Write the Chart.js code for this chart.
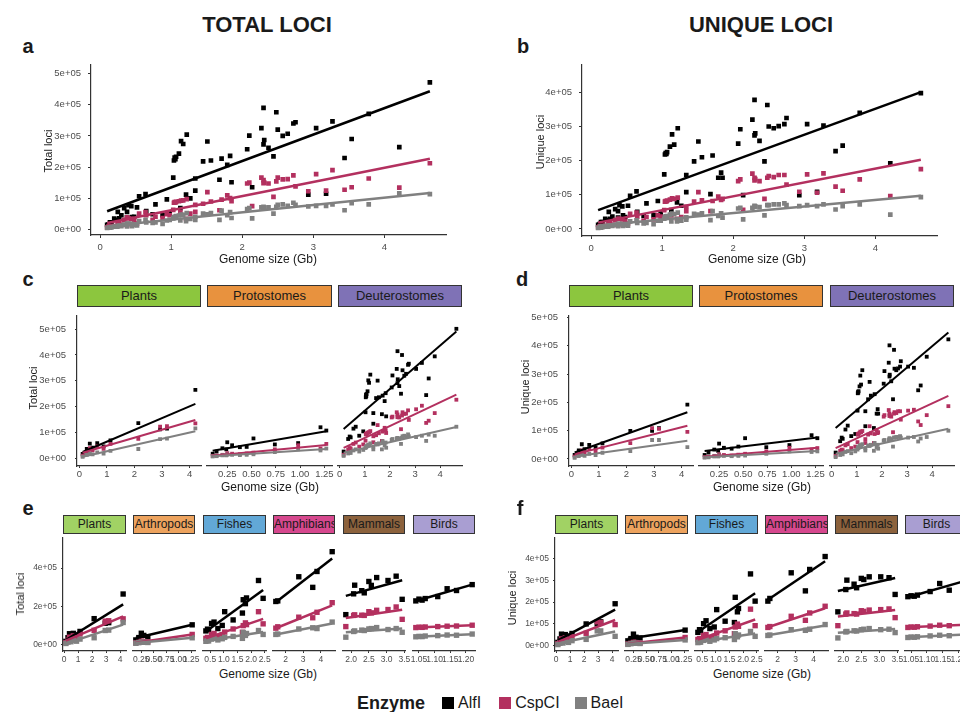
<!DOCTYPE html>
<html>
<head>
<meta charset="utf-8">
<script src="https://cdn.jsdelivr.net/npm/chart.js@4.4.1/dist/chart.umd.min.js"></script>
<style>
body { margin: 0; width: 960px; height: 712px; overflow: hidden; background: #fff; position: relative;
       font-family: 'Liberation Sans', Arial, Helvetica, sans-serif; color: #1a1a1a; }
canvas { position: absolute; }
.txt { position: absolute; white-space: nowrap; transform: translate(-50%, -50%); }
.rot { transform: translate(-50%, -50%) rotate(-90deg); }
.strip { position: absolute; box-sizing: border-box; border: 1px solid #333; text-align: center;
         overflow: hidden; white-space: nowrap; color: #1a1a1a; }
.legend { position: absolute; left: 357px; top: 692px; height: 22px; display: flex; align-items: center; font-size: 16px; }
.legend .sw { width: 12px; height: 12px; margin: 0 4px 0 0; }
</style>
</head>
<body>
<script>
// Genome size (Gb) and loci counts (thousands) per taxon group

// Plants
const plantSize   = [0.12, 0.27, 0.38, 0.48, 0.65, 0.88, 1.13, 2.14, 2.93, 3.18, 4.21];
const plantTotAlf = [16, 35, 56, 40, 58, 45, 68, 135, 111, 114, 264];
const plantTotCsp = [9, 22, 38, 30, 45, 36, 55, 74, 122, 124, 134];
const plantTotBae = [5, 12, 18, 14, 22, 17, 28, 35, 73, 75, 115];
const plantUniAlf = [14, 30, 52, 35, 50, 40, 55, 99, 99, 109, 192];
const plantUniCsp = [8, 18, 30, 24, 35, 28, 40, 56, 109, 106, 96];
const plantUniBae = [4, 10, 15, 11, 18, 14, 22, 28, 67, 67, 42];

// Arthropods
const arthSize   = [0.14, 0.2, 0.25, 0.3, 0.38, 1.27];
const arthTotAlf = [22, 34, 56, 45, 38, 99];
const arthTotCsp = [7, 10, 16, 14, 12, 50];
const arthTotBae = [5, 8, 11, 10, 9, 33];
const arthUniAlf = [20, 30, 50, 36, 33, 68];
const arthUniCsp = [6, 9, 14, 12, 10, 35];
const arthUniBae = [4, 7, 10, 9, 8, 24];

// Other protostomes
const protSize   = [0.1, 0.24, 0.45, 0.52, 0.74, 0.98, 1.21];
const protTotAlf = [14, 30, 39, 70, 48, 53, 111];
const protTotCsp = [6, 10, 15, 18, 30, 45, 33];
const protTotBae = [4, 8, 10, 12, 20, 30, 26];
const protUniAlf = [12, 26, 40, 68, 38, 45, 78];
const protUniCsp = [5, 9, 13, 16, 24, 36, 30];
const protUniBae = [3, 7, 9, 10, 16, 24, 22];

// Fishes
const fishSize   = [0.34, 0.40, 0.44, 0.55, 0.64, 0.78, 0.94, 1.03, 1.34, 1.68, 1.71, 1.79, 1.83, 2.27, 2.44];
const fishTotAlf = [68, 77, 74, 106, 113, 80, 96, 166, 124, 159, 227, 207, 236, 325, 234];
const fishTotCsp = [30, 35, 33, 50, 55, 40, 48, 62, 78, 61, 95, 109, 100, 166, 104];
const fishTotBae = [15, 18, 17, 26, 30, 22, 28, 35, 40, 30, 60, 45, 55, 70, 50];
const fishUniAlf = [58, 70, 66, 97, 110, 75, 82, 160, 108, 102, 215, 150, 165, 320, 198];
const fishUniCsp = [26, 30, 28, 44, 48, 35, 40, 55, 65, 52, 82, 95, 85, 162, 88];
const fishUniBae = [12, 15, 14, 22, 25, 18, 24, 30, 34, 26, 52, 38, 46, 62, 40];

// Amphibians
const amphSize   = [1.45, 1.56, 2.75, 3.54, 3.78, 4.64];
const amphTotAlf = [218, 221, 344, 290, 371, 472];
const amphTotCsp = [82, 89, 138, 135, 163, 212];
const amphTotBae = [50, 52, 78, 84, 80, 113];
const amphUniAlf = [198, 210, 325, 244, 340, 398];
const amphUniCsp = [80, 84, 130, 112, 145, 175];
const amphUniBae = [44, 46, 70, 67, 72, 93];

// Mammals
const mamSize   = [1.85, 2.07, 2.10, 2.30, 2.37, 2.50, 2.57, 2.72, 3.04, 3.27, 3.44];
const mamTotAlf = [151, 257, 301, 273, 262, 320, 300, 340, 325, 347, 229];
const mamTotCsp = [90, 147, 150, 148, 147, 166, 160, 173, 177, 190, 127];
const mamTotBae = [36, 65, 68, 72, 70, 78, 80, 85, 75, 80, 61];
const mamUniAlf = [150, 250, 292, 274, 258, 300, 295, 307, 307, 303, 228];
const mamUniCsp = [88, 140, 145, 142, 140, 155, 152, 158, 160, 163, 124];
const mamUniBae = [33, 60, 62, 65, 64, 70, 72, 75, 70, 72, 57];

// Birds
const birdSize   = [1.04, 1.05, 1.06, 1.07, 1.11, 1.14, 1.17, 1.22];
const birdTotAlf = [221, 230, 225, 233, 243, 283, 274, 304];
const birdTotCsp = [85, 87, 86, 88, 90, 92, 93, 97];
const birdTotBae = [38, 40, 39, 42, 44, 47, 46, 52];
const birdUniAlf = [218, 222, 220, 225, 241, 277, 247, 295];
const birdUniCsp = [80, 82, 81, 83, 86, 90, 88, 92];
const birdUniBae = [35, 37, 36, 38, 42, 45, 43, 48];

// Other deuterostomes
const deutSize   = [0.16, 1.34, 1.51, 2.30, 2.31, 2.48, 2.64];
const deutTotAlf = [22, 163, 282, 390, 287, 376, 307];
const deutTotCsp = [10, 56, 119, 158, 150, 154, 161];
const deutTotBae = [6, 30, 48, 70, 68, 72, 75];
const deutUniAlf = [20, 158, 256, 378, 280, 363, 301];
const deutUniCsp = [9, 52, 108, 150, 146, 150, 158];
const deutUniBae = [5, 27, 42, 68, 66, 70, 72];

const enzymes = ['AlfI', 'CspCI', 'BaeI'];
const enzymeColors = ['#000000', '#B3305F', '#808080'];

// Tick values
const ticksWhole = [0, 1, 2, 3, 4];
const ticksQuarter = [0.25, 0.5, 0.75, 1.0, 1.25];
const ticksFish = [0.5, 1.0, 1.5, 2.0, 2.5];
const ticksAmph = [2, 3, 4];
const ticksMam = [2.0, 2.5, 3.0, 3.5];
const ticksBird = [1.05, 1.10, 1.15, 1.20];
const yTicks5 = [0, 100, 200, 300, 400, 500];
const yTicks4 = [0, 100, 200, 300, 400];
const yTicksE = [0, 200, 400];

const FONT = "'Liberation Sans', Arial, Helvetica, sans-serif";
const TICK_COLOR = '#4D4D4D';
const AXIS_COLOR = '#333333';

const groups = {
    plants: { size: plantSize, tot: [plantTotAlf, plantTotCsp, plantTotBae], uni: [plantUniAlf, plantUniCsp, plantUniBae] },
    arth:   { size: arthSize,  tot: [arthTotAlf, arthTotCsp, arthTotBae],    uni: [arthUniAlf, arthUniCsp, arthUniBae] },
    prot:   { size: protSize,  tot: [protTotAlf, protTotCsp, protTotBae],    uni: [protUniAlf, protUniCsp, protUniBae] },
    fish:   { size: fishSize,  tot: [fishTotAlf, fishTotCsp, fishTotBae],    uni: [fishUniAlf, fishUniCsp, fishUniBae] },
    amph:   { size: amphSize,  tot: [amphTotAlf, amphTotCsp, amphTotBae],    uni: [amphUniAlf, amphUniCsp, amphUniBae] },
    mam:    { size: mamSize,   tot: [mamTotAlf, mamTotCsp, mamTotBae],       uni: [mamUniAlf, mamUniCsp, mamUniBae] },
    bird:   { size: birdSize,  tot: [birdTotAlf, birdTotCsp, birdTotBae],    uni: [birdUniAlf, birdUniCsp, birdUniBae] },
    deut:   { size: deutSize,  tot: [deutTotAlf, deutTotCsp, deutTotBae],    uni: [deutUniAlf, deutUniCsp, deutUniBae] }
};

// Combine several groups into one facet
function merge(keys) {
    const out = { size: [], tot: [[], [], []], uni: [[], [], []] };
    keys.forEach(k => {
        const g = groups[k];
        out.size = out.size.concat(g.size);
        for (let e = 0; e < 3; e++) {
            out.tot[e] = out.tot[e].concat(g.tot[e]);
            out.uni[e] = out.uni[e].concat(g.uni[e]);
        }
    });
    return out;
}

// Least squares line over the range of the data (like geom_smooth(method = "lm"))
function fit(xs, ys) {
    const n = xs.length;
    const mx = xs.reduce((a, b) => a + b, 0) / n;
    const my = ys.reduce((a, b) => a + b, 0) / n;
    let sxy = 0, sxx = 0;
    for (let i = 0; i < n; i++) {
        sxy += (xs[i] - mx) * (ys[i] - my);
        sxx += (xs[i] - mx) * (xs[i] - mx);
    }
    const b = sxy / sxx, a = my - b * mx;
    const x0 = Math.min(...xs), x1 = Math.max(...xs);
    return [{ x: x0, y: a + b * x0 }, { x: x1, y: a + b * x1 }];
}

const allKeys = ['plants', 'arth', 'prot', 'fish', 'amph', 'mam', 'bird', 'deut'];

const facetsAll = [{ data: merge(allKeys), ticks: ticksWhole, dec: 0 }];
const facets3 = [
    { name: 'Plants', fill: '#8CC63E', data: merge(['plants']), ticks: ticksWhole, dec: 0 },
    { name: 'Protostomes', fill: '#E8923E', data: merge(['arth', 'prot']), ticks: ticksQuarter, dec: 2 },
    { name: 'Deuterostomes', fill: '#7F72B6', data: merge(['fish', 'amph', 'mam', 'bird', 'deut']), ticks: ticksWhole, dec: 0 }
];
const facets6 = [
    { name: 'Plants', fill: '#A1D264', data: merge(['plants']), ticks: ticksWhole, dec: 0 },
    { name: 'Arthropods', fill: '#EDA35E', data: merge(['arth']), ticks: ticksQuarter, dec: 2 },
    { name: 'Fishes', fill: '#62A8D7', data: merge(['fish']), ticks: ticksFish, dec: 1 },
    { name: 'Amphibians', fill: '#D6488E', data: merge(['amph']), ticks: ticksAmph, dec: 0 },
    { name: 'Mammals', fill: '#8C623D', data: merge(['mam']), ticks: ticksMam, dec: 1 },
    { name: 'Birds', fill: '#A99ED2', data: merge(['bird']), ticks: ticksBird, dec: 2 }
];

// Layout of each panel (page pixels)
const styleBig = { yW: 50, xH: 22, tickLen: 3, xPad: 4, yPad: 7, tickSize: 9.5, ptR: 3.3, lineW: 2.5 };
const styleMid = { yW: 50, xH: 16, tickLen: 2, xPad: 1, yPad: 9, tickSize: 9.5, ptR: 2.7, lineW: 2 };
const styleSmall = { yW: 45, xH: 16, tickLen: 2, xPad: 2, yPad: 4, tickSize: 8.5, ptR: 3.8, lineW: 2.5 };

const panels = [
    { facets: facetsAll, measure: 'tot', style: styleBig, t: 58, b: 235, xs: [[91, 446]], yMin: -18.6, yMax: 529, yTicks: yTicks5 },
    { facets: facetsAll, measure: 'uni', style: styleBig, t: 58, b: 236, xs: [[582, 937]], yMin: -20.6, yMax: 481, yTicks: yTicks4 },
    { facets: facets3, measure: 'tot', style: styleMid, t: 307, b: 466, xs: [[77, 201], [207, 332], [338, 462]], yMin: -31, yMax: 552, yTicks: yTicks5, stripTop: 285, stripSize: 13 },
    { facets: facets3, measure: 'uni', style: styleMid, t: 307, b: 466, xs: [[569, 693], [699, 823], [830, 954]], yMin: -24.8, yMax: 506, yTicks: yTicks5, stripTop: 285, stripSize: 13 },
    { facets: facets6, measure: 'tot', style: styleSmall, t: 534, b: 651, xs: [[63, 126], [133, 195], [203, 266], [273, 335], [343, 405], [413, 475]], yMin: -34.4, yMax: 562, yTicks: yTicksE, stripTop: 515, stripSize: 12 },
    { facets: facets6, measure: 'uni', style: styleSmall, t: 534, b: 651, xs: [[555, 618], [625, 688], [695, 758], [765, 828], [835, 898], [905, 968]], yMin: -25.6, yMax: 499, yTicks: yTicks4, stripTop: 515, stripSize: 12 }
];

function yLabel(v) {
    return v === 0 ? '0e+00' : (v / 100) + 'e+05';
}

function drawFacet(panel, facet, idx) {
    const s = panel.style;
    const showY = idx === 0;
    const yW = showY ? s.yW : 0;
    const padL = showY ? 0 : 12, padR = 12, padT = 6;
    const l = panel.xs[idx][0], r = panel.xs[idx][1];
    const w = (r - l) + yW + padL + padR;
    const h = (panel.b - panel.t) + s.xH + padT;

    const cv = document.createElement('canvas');
    cv.width = w;
    cv.height = h;
    cv.style.left = (l - yW - padL) + 'px';
    cv.style.top = (panel.t - padT) + 'px';
    document.body.appendChild(cv);

    const xs = facet.data.size;
    const lo = Math.min(...xs), hi = Math.max(...xs), ex = (hi - lo) * 0.05;

    const datasets = [];
    enzymes.forEach((name, k) => {
        const ys = facet.data[panel.measure][k];
        datasets.push({
            label: name + ' fit',
            data: fit(xs, ys),
            showLine: true,
            borderColor: enzymeColors[k],
            borderWidth: s.lineW,
            pointRadius: 0,
            order: 2 - k
        });
        datasets.push({
            label: name,
            data: xs.map((x, i) => ({ x: x, y: ys[i] })),
            pointStyle: 'rect',
            pointRadius: s.ptR,
            backgroundColor: enzymeColors[k],
            borderWidth: 0,
            order: 5 - k
        });
    });

    new Chart(cv, {
        type: 'scatter',
        data: { datasets: datasets },
        options: {
            responsive: false,
            animation: false,
            devicePixelRatio: 1,
            events: [],
            layout: { padding: { left: padL, right: padR, top: padT, bottom: 0 } },
            plugins: { legend: { display: false }, tooltip: { enabled: false } },
            scales: {
                x: {
                    type: 'linear',
                    min: lo - ex,
                    max: hi + ex,
                    afterBuildTicks: sc => { sc.ticks = facet.ticks.map(v => ({ value: v })); },
                    afterFit: sc => { sc.height = s.xH; },
                    ticks: {
                        callback: v => Number(v).toFixed(facet.dec),
                        autoSkip: false, maxRotation: 0, minRotation: 0,
                        padding: s.xPad, color: TICK_COLOR,
                        font: { family: FONT, size: s.tickSize }
                    },
                    grid: { display: true, drawOnChartArea: false, drawTicks: true, tickLength: s.tickLen, color: AXIS_COLOR },
                    border: { display: true, color: AXIS_COLOR, width: 1.2 }
                },
                y: {
                    type: 'linear',
                    display: showY,
                    min: panel.yMin,
                    max: panel.yMax,
                    afterBuildTicks: sc => { sc.ticks = panel.yTicks.map(v => ({ value: v })); },
                    afterFit: sc => { sc.width = yW; },
                    ticks: {
                        callback: v => yLabel(v),
                        padding: s.yPad, color: TICK_COLOR,
                        font: { family: FONT, size: s.tickSize }
                    },
                    grid: { display: true, drawOnChartArea: false, drawTicks: true, tickLength: s.tickLen, color: AXIS_COLOR },
                    border: { display: true, color: AXIS_COLOR, width: 1.2 }
                }
            }
        }
    });

    if (facet.name) {
        const st = document.createElement('div');
        st.className = 'strip';
        st.style.left = l + 'px';
        st.style.top = panel.stripTop + 'px';
        st.style.width = (r - l) + 'px';
        st.style.height = (panel.t - panel.stripTop) + 'px';
        st.style.lineHeight = (panel.t - panel.stripTop - 2) + 'px';
        st.style.fontSize = panel.stripSize + 'px';
        st.style.background = facet.fill;
        st.textContent = facet.name;
        document.body.appendChild(st);
    }
}

function addText(str, x, y, size, bold, rotate) {
    const d = document.createElement('div');
    d.className = rotate ? 'txt rot' : 'txt';
    d.style.left = x + 'px';
    d.style.top = y + 'px';
    d.style.fontSize = size + 'px';
    if (bold) d.style.fontWeight = 'bold';
    d.textContent = str;
    document.body.appendChild(d);
}

panels.forEach(p => p.facets.forEach((f, i) => drawFacet(p, f, i)));

// Titles and panel letters
addText('TOTAL LOCI', 267, 25, 22, true);
addText('UNIQUE LOCI', 761, 25, 22, true);
addText('a', 28, 46, 20, true);
addText('b', 523, 46, 20, true);
addText('c', 28, 279, 20, true);
addText('d', 522, 279, 20, true);
addText('e', 28, 508, 20, true);
addText('f', 520, 508, 20, true);

// Axis titles
addText('Genome size (Gb)', 268, 259, 12);
addText('Genome size (Gb)', 757, 259, 12);
addText('Genome size (Gb)', 270, 487, 12);
addText('Genome size (Gb)', 762, 487, 12);
addText('Genome size (Gb)', 268, 674, 12);
addText('Genome size (Gb)', 762, 674, 12);
addText('Total loci', 48, 151, 11, false, true);
addText('Unique loci', 540, 142, 11, false, true);
addText('Total loci', 33, 388, 11, false, true);
addText('Unique loci', 525, 387, 11, false, true);
addText('Total loci', 20, 594, 11, false, true);
addText('Unique loci', 512, 598, 11, false, true);

// Shared legend
const leg = document.createElement('div');
leg.className = 'legend';
let html = '<span style="font-weight:bold;font-size:18px;margin-right:17px">Enzyme</span>';
const gaps = [18, 15, 0];
enzymes.forEach((name, k) => {
    html += '<span class="sw" style="background:' + enzymeColors[k] + '"></span>' +
            '<span style="margin-right:' + gaps[k] + 'px">' + name + '</span>';
});
leg.innerHTML = html;
document.body.appendChild(leg);
</script>
</body>
</html>
